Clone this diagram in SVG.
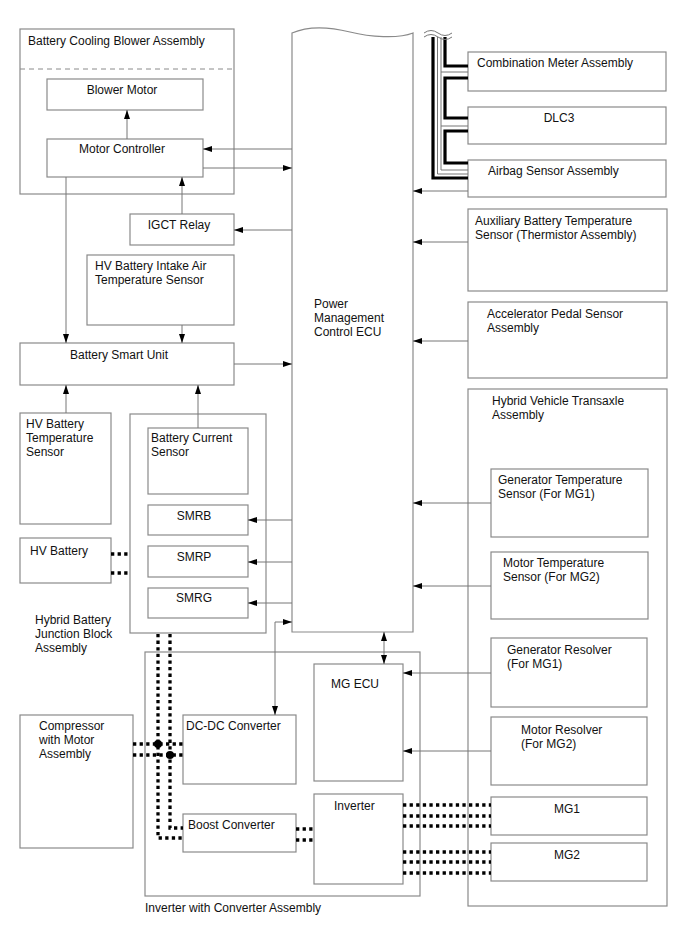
<svg xmlns="http://www.w3.org/2000/svg" width="688" height="949" viewBox="0 0 688 949">
<defs>
<marker id="ah" markerUnits="userSpaceOnUse" markerWidth="9" markerHeight="6" refX="9" refY="3" orient="auto-start-reverse">
<path d="M0,0 L9,3 L0,6 z" fill="#000"/>
</marker>
<style>
.box{fill:#fff;stroke:#8a8a8a;stroke-width:1.2}
.t{font-family:"Liberation Sans",Arial,sans-serif;font-size:12px;fill:#111}
.c{text-anchor:middle}
.ln{fill:none;stroke:#777;stroke-width:1}
.ar{fill:none;stroke:#777;stroke-width:1;marker-end:url(#ah)}
.ar2{fill:none;stroke:#777;stroke-width:1;marker-end:url(#ah);marker-start:url(#ah)}
.hv{fill:none;stroke:#000;stroke-width:3.3;stroke-dasharray:3.3 3.3}
.can{fill:none;stroke:#000;stroke-width:3.2}
.cant{fill:none;stroke:#777;stroke-width:1}
</style>
</defs>
<rect width="688" height="949" fill="#fff"/>

<g id="battery-cooling-blower-assembly">
<rect class="box" x="20" y="29" width="214" height="165"/>
<line x1="20" y1="69" x2="234" y2="69" stroke="#8a8a8a" stroke-width="1" stroke-dasharray="5 4"/>
<text class="t" x="28" y="45">Battery Cooling Blower Assembly</text>
</g>
<g id="blower-motor">
<rect class="box" x="47" y="79" width="156" height="31"/>
<text class="t c" x="122" y="94">Blower Motor</text>
</g>
<g id="motor-controller">
<rect class="box" x="47" y="139" width="156" height="38"/>
<text class="t c" x="122" y="153">Motor Controller</text>
</g>
<g id="igct-relay">
<rect class="box" x="130" y="214" width="104" height="31"/>
<text class="t c" x="179" y="229">IGCT Relay</text>
</g>
<g id="hv-battery-intake-air-temperature-sensor">
<rect class="box" x="87" y="255" width="147" height="70"/>
<text class="t" x="95" y="270">HV Battery Intake Air</text>
<text class="t" x="95" y="284">Temperature Sensor</text>
</g>
<g id="battery-smart-unit">
<rect class="box" x="20" y="343" width="214" height="42"/>
<text class="t" x="70" y="359">Battery Smart Unit</text>
</g>
<g id="hv-battery-temperature-sensor">
<rect class="box" x="20" y="413" width="91" height="111"/>
<text class="t" x="26" y="428">HV Battery</text>
<text class="t" x="26" y="442">Temperature</text>
<text class="t" x="26" y="456">Sensor</text>
</g>
<g id="hybrid-battery-junction-block-assembly">
<rect class="box" x="130" y="414" width="136" height="219"/>
<text class="t" x="35" y="624">Hybrid Battery</text>
<text class="t" x="35" y="638">Junction Block</text>
<text class="t" x="35" y="652">Assembly</text>
</g>
<g id="battery-current-sensor">
<rect class="box" x="148" y="428" width="100" height="66"/>
<text class="t" x="151" y="442">Battery Current</text>
<text class="t" x="151" y="456">Sensor</text>
</g>
<g id="smrb">
<rect class="box" x="148" y="505" width="100" height="30"/>
<text class="t c" x="194" y="520">SMRB</text>
</g>
<g id="smrp">
<rect class="box" x="148" y="546" width="100" height="31"/>
<text class="t c" x="194" y="561">SMRP</text>
</g>
<g id="smrg">
<rect class="box" x="148" y="588" width="100" height="30"/>
<text class="t c" x="194" y="602">SMRG</text>
</g>
<g id="hv-battery">
<rect class="box" x="20" y="538" width="91" height="45"/>
<text class="t" x="30" y="555">HV Battery</text>
</g>

<g id="power-management-control-ecu">
<path class="box" d="M292,33 C310,25 330,27 350,32 S398,39 413,33 V632 H292 Z"/>
<text class="t" x="314" y="308">Power</text>
<text class="t" x="314" y="322">Management</text>
<text class="t" x="314" y="336">Control ECU</text>
</g>

<g id="combination-meter-assembly">
<rect class="box" x="468" y="52" width="198" height="39"/>
<text class="t" x="477" y="67">Combination Meter Assembly</text>
</g>
<g id="dlc3">
<rect class="box" x="468" y="107" width="198" height="37"/>
<text class="t c" x="559" y="122">DLC3</text>
</g>
<g id="airbag-sensor-assembly">
<rect class="box" x="468" y="160" width="198" height="37"/>
<text class="t" x="488" y="175">Airbag Sensor Assembly</text>
</g>
<g id="auxiliary-battery-temperature-sensor">
<rect class="box" x="468" y="209" width="199" height="82"/>
<text class="t" x="475" y="225">Auxiliary Battery Temperature</text>
<text class="t" x="475" y="239">Sensor (Thermistor Assembly)</text>
</g>
<g id="accelerator-pedal-sensor-assembly">
<rect class="box" x="468" y="302" width="199" height="76"/>
<text class="t" x="487" y="318">Accelerator Pedal Sensor</text>
<text class="t" x="487" y="332">Assembly</text>
</g>
<g id="hybrid-vehicle-transaxle-assembly">
<rect class="box" x="468" y="389" width="199" height="517"/>
<text class="t" x="492" y="405">Hybrid Vehicle Transaxle</text>
<text class="t" x="492" y="419">Assembly</text>
</g>
<g id="generator-temperature-sensor">
<rect class="box" x="491" y="469" width="157" height="68"/>
<text class="t" x="498" y="484">Generator Temperature</text>
<text class="t" x="498" y="498">Sensor (For MG1)</text>
</g>
<g id="motor-temperature-sensor">
<rect class="box" x="491" y="552" width="157" height="67"/>
<text class="t" x="503" y="567">Motor Temperature</text>
<text class="t" x="503" y="581">Sensor (For MG2)</text>
</g>
<g id="generator-resolver">
<rect class="box" x="491" y="638" width="156" height="69"/>
<text class="t" x="507" y="654">Generator Resolver</text>
<text class="t" x="507" y="668">(For MG1)</text>
</g>
<g id="motor-resolver">
<rect class="box" x="491" y="717" width="156" height="68"/>
<text class="t" x="521" y="734">Motor Resolver</text>
<text class="t" x="521" y="748">(For MG2)</text>
</g>
<g id="mg1">
<rect class="box" x="491" y="797" width="156" height="38"/>
<text class="t c" x="567" y="813">MG1</text>
</g>
<g id="mg2">
<rect class="box" x="491" y="843" width="156" height="38"/>
<text class="t c" x="567" y="859">MG2</text>
</g>

<g id="inverter-with-converter-assembly">
<rect class="box" x="145" y="652" width="275" height="244"/>
<text class="t" x="145" y="912">Inverter with Converter Assembly</text>
</g>
<g id="compressor-with-motor-assembly">
<rect class="box" x="20" y="715" width="113" height="133"/>
<text class="t" x="39" y="730">Compressor</text>
<text class="t" x="39" y="744">with Motor</text>
<text class="t" x="39" y="758">Assembly</text>
</g>
<g id="dc-dc-converter">
<rect class="box" x="183" y="715" width="113" height="69"/>
<text class="t" x="186" y="730">DC-DC Converter</text>
</g>
<g id="boost-converter">
<rect class="box" x="183" y="814" width="113" height="38"/>
<text class="t" x="188" y="829">Boost Converter</text>
</g>
<g id="mg-ecu">
<rect class="box" x="314" y="664" width="89" height="117"/>
<text class="t" x="331" y="688">MG ECU</text>
</g>
<g id="inverter">
<rect class="box" x="314" y="794" width="89" height="90"/>
<text class="t" x="334" y="810">Inverter</text>
</g>

<g id="connectors">
<!-- blower assembly -->
<line class="ar" x1="127" y1="139" x2="127" y2="110"/>
<line class="ar" x1="292" y1="149" x2="203" y2="149"/>
<line class="ar" x1="203" y1="168" x2="292" y2="168"/>
<line class="ar" x1="182" y1="214" x2="182" y2="177"/>
<line class="ar" x1="292" y1="230" x2="234" y2="230"/>
<line class="ar" x1="66" y1="177" x2="66" y2="343"/>
<line class="ar" x1="182" y1="325" x2="182" y2="343"/>
<line class="ar" x1="234" y1="364" x2="292" y2="364"/>
<line class="ar" x1="66" y1="413" x2="66" y2="385"/>
<line class="ar" x1="198" y1="428" x2="198" y2="385"/>
<line class="ar" x1="292" y1="520" x2="248" y2="520"/>
<line class="ar" x1="292" y1="562" x2="248" y2="562"/>
<line class="ar" x1="292" y1="603" x2="248" y2="603"/>
<path class="ar2" d="M292,622 H275 V715"/>
<line class="ar2" x1="384" y1="632" x2="384" y2="664"/>
<!-- right side -->
<line class="ar" x1="468" y1="191" x2="413" y2="191"/>
<line class="ar" x1="468" y1="242" x2="413" y2="242"/>
<line class="ar" x1="468" y1="341" x2="413" y2="341"/>
<line class="ar" x1="491" y1="503" x2="413" y2="503"/>
<line class="ar" x1="491" y1="586" x2="413" y2="586"/>
<line class="ar" x1="491" y1="673" x2="403" y2="673"/>
<line class="ar" x1="491" y1="751" x2="403" y2="751"/>
<!-- CAN bus -->
<path class="can" d="M433,37 V178 H468"/>
<path class="cant" d="M437.5,37 V174 H468"/>
<path class="cant" d="M441,37 V170 H468 M441,72 H468 M441,126 H468"/>
<path class="can" d="M445,37 V66 H468 M468,78 H445 V118 H468 M468,131 H445 V163 H468"/>
<path d="M424,33 Q431,28 438,33 T452,33 M424,37 Q431,32 438,37 T452,37" fill="none" stroke="#777" stroke-width="1"/>
<!-- HV wiring -->
<line class="hv" x1="111" y1="554" x2="130" y2="554"/>
<line class="hv" x1="111" y1="573" x2="130" y2="573"/>
<path class="hv" d="M158,634 V838 H183"/>
<path class="hv" d="M170,634 V828 H183"/>
<line class="hv" x1="133" y1="744" x2="183" y2="744"/>
<line class="hv" x1="133" y1="755" x2="183" y2="755"/>
<circle cx="158" cy="744" r="4" fill="#000"/>
<circle cx="170" cy="755" r="4" fill="#000"/>
<line class="hv" x1="296" y1="829" x2="314" y2="829"/>
<line class="hv" x1="296" y1="840" x2="314" y2="840"/>
<line class="hv" x1="403" y1="805" x2="491" y2="805"/>
<line class="hv" x1="403" y1="816" x2="491" y2="816"/>
<line class="hv" x1="403" y1="826" x2="491" y2="826"/>
<line class="hv" x1="403" y1="852" x2="491" y2="852"/>
<line class="hv" x1="403" y1="862" x2="491" y2="862"/>
<line class="hv" x1="403" y1="873" x2="491" y2="873"/>
</g>
</svg>
